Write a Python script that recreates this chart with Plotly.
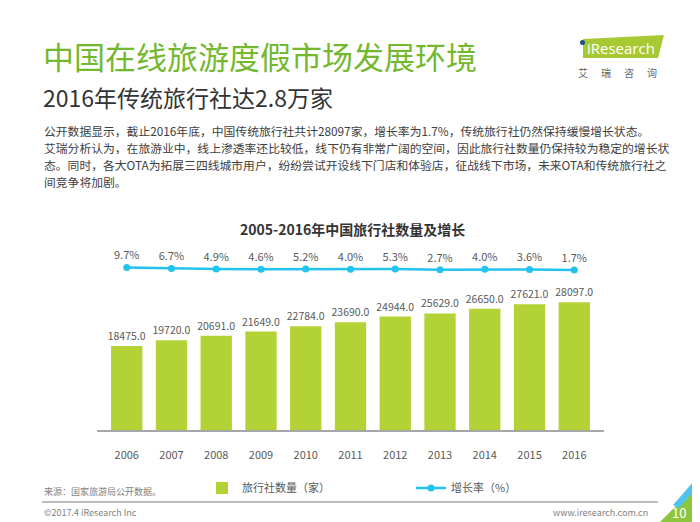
import plotly.graph_objects as go

# data
years = ['2006', '2007', '2008', '2009', '2010', '2011', '2012', '2013', '2014', '2015', '2016']
agency_count = [18475.0, 19720.0, 20691.0, 21649.0, 22784.0, 23690.0, 24944.0, 25629.0, 26650.0, 27621.0, 28097.0]
growth_rate = [9.7, 6.7, 4.9, 4.6, 5.2, 4.0, 5.3, 2.7, 4.0, 3.6, 1.7]

# the page body keeps an 8px margin, so the figure is a bit smaller than the window
OFF = 8
W, H = 700 - OFF, 522 - OFF
FONT = 'Noto Sans CJK SC'
BAR_GREEN = '#b3d235'
LINE_BLUE = '#22c3f0'
GREY_TEXT = '#595959'


def px(x):
    # window pixel -> paper fraction
    return (x - OFF) / W


def py(y):
    return (H - (y - OFF)) / H


fig = go.Figure()

fig.add_trace(go.Bar(
    x=years, y=agency_count, name='旅行社数量（家）',
    marker=dict(color=BAR_GREEN, line=dict(width=0)),
    text=[f'{v:.1f}' for v in agency_count], textposition='outside',
    constraintext='none',
    textfont=dict(size=10.5, color=GREY_TEXT, family=FONT),
    cliponaxis=False,
))

fig.add_trace(go.Scatter(
    x=years, y=growth_rate, name='增长率（%）', yaxis='y2',
    mode='lines+markers+text',
    line=dict(color=LINE_BLUE, width=2.5),
    marker=dict(color=LINE_BLUE, size=7),
    text=[f'{v:.1f}%' for v in growth_rate], textposition='top center',
    textfont=dict(size=11, color=GREY_TEXT, family=FONT),
    cliponaxis=False,
))

# page texts
annotations = [
    dict(text='中国在线旅游度假市场发展环境', x=px(41), y=py(55), font=dict(size=31, color='#74b82f')),
    dict(text='2016年传统旅行社达2.8万家', x=px(41), y=py(97), font=dict(size=23, color='#333333')),
    dict(text='公开数据显示，截止2016年底，中国传统旅行社共计28097家，增长率为1.7%，传统旅行社仍然保持缓慢增长状态。',
         x=px(42), y=py(130), font=dict(size=11.8, color='#404040')),
    dict(text='艾瑞分析认为，在旅游业中，线上渗透率还比较低，线下仍有非常广阔的空间，因此旅行社数量仍保持较为稳定的增长状',
         x=px(42), y=py(147), font=dict(size=11.8, color='#404040')),
    dict(text='态。同时，各大OTA为拓展三四线城市用户，纷纷尝试开设线下门店和体验店，征战线下市场，未来OTA和传统旅行社之',
         x=px(42), y=py(164), font=dict(size=11.8, color='#404040')),
    dict(text='间竞争将加剧。', x=px(42), y=py(181), font=dict(size=11.8, color='#404040')),
    dict(text='来源：国家旅游局公开数据。', x=px(42), y=py(491), font=dict(size=9, color='#7f7f7f')),
    dict(text='©2017.4 iResearch Inc', x=px(42), y=py(512), font=dict(size=9, color='#7f7f7f')),
    dict(text='iResearch', x=px(585), y=py(48), font=dict(size=15, color='white', family='Open Sans')),
]
for a in annotations:
    a.update(xanchor='left')
    a['font'].setdefault('family', FONT)

annotations += [
    dict(text='<b>2005-2016年中国旅行社数量及增长</b>', x=px(352), y=py(229),
         font=dict(size=14, color='#333333', family=FONT)),
    dict(text='www.iresearch.com.cn', x=px(650), y=py(512), xanchor='right',
         font=dict(size=9, color='#7f7f7f', family=FONT)),
    dict(text='10', x=px(688), y=py(512), font=dict(size=13, color='white', family=FONT)),
]
for i, ch in enumerate('艾瑞咨询'):
    annotations.append(dict(text=ch, x=px(590 + 23 * i), y=py(72),
                            font=dict(size=10, color='#666666', family=FONT)))
for a in annotations:
    a.update(xref='paper', yref='paper', yanchor='middle', showarrow=False)

shapes = [
    # left page edge
    dict(type='line', x0=px(1), x1=px(1), y0=0, y1=1, line=dict(color='#a0a0a0', width=1.5)),
    # footer rule
    dict(type='line', x0=px(42), x1=px(658), y0=py(502), y1=py(502), line=dict(color='#a6a6a6', width=1.5)),
    # logo block
    dict(type='path', path=f'M {px(583)},{py(39)} L {px(664)},{py(35)} L {px(658)},{py(58)} L {px(583)},{py(58)} Z',
         fillcolor='#a9c934', line=dict(width=0)),
    dict(type='circle', x0=px(580), x1=px(585), y0=py(45), y1=py(40), fillcolor='#1f4e8c', line=dict(width=0)),
    # corner decoration
    dict(type='path', path=f'M {px(660)},{py(522)} L {px(700)},{py(482)} L {px(700)},{py(522)} Z',
         fillcolor='#8cc63f', line=dict(width=0)),
    dict(type='path', path=f'M {px(673)},{py(505)} L {px(700)},{py(474)} L {px(700)},{py(484)} L {px(679)},{py(508)} Z',
         fillcolor='#4fc3ef', line=dict(width=0)),
]
for s in shapes:
    s.update(xref='paper', yref='paper', layer='below')

fig.update_layout(
    width=W, height=H,
    margin=dict(l=0, r=0, t=0, b=0),
    paper_bgcolor='white', plot_bgcolor='rgba(0,0,0,0)',
    font=dict(family=FONT, color=GREY_TEXT),
    bargap=0.3,
    showlegend=True,
    legend=dict(orientation='h', x=px(202), y=py(488), xanchor='left', yanchor='middle',
                entrywidth=164, itemwidth=30, font=dict(size=11, color=GREY_TEXT, family=FONT),
                bgcolor='rgba(0,0,0,0)'),
    xaxis=dict(type='category', domain=[px(97), px(604)], showline=True, linecolor='#a6a6a6', linewidth=2,
               showgrid=False, ticks='', ticklabelstandoff=14,
               tickfont=dict(size=11, color=GREY_TEXT, family=FONT)),
    yaxis=dict(domain=[py(430), py(250)], range=[0, 39560], visible=False, showgrid=False),
    yaxis2=dict(overlaying='y', range=[-498, 64.5], visible=False, showgrid=False),
    annotations=annotations,
    shapes=shapes,
)

fig.write_html('out.html')
